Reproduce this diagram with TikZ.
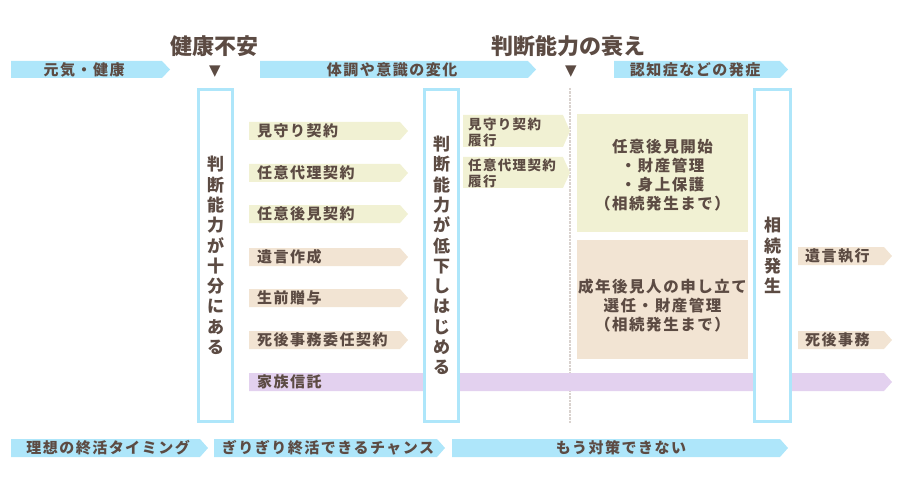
\documentclass[tikz,border=0pt]{standalone}
\usepackage{fontspec}
\newfontfamily\jp[LetterSpace=10]{Noto Sans CJK JP}
\newfontfamily\jph{Noto Sans CJK JP}
\newfontfamily\sym{DejaVu Sans}
\definecolor{txt}{HTML}{5C4B43}
\definecolor{sky}{HTML}{AEE6FA}
\definecolor{lemon}{HTML}{F1F1D3}
\definecolor{sand}{HTML}{F2E4D3}
\definecolor{lav}{HTML}{E3D1EF}
\definecolor{dashc}{HTML}{D9D2CE}
\newcommand\band[6][8]{\fill[#2] (#3,#5-#6/2) -- (#4-#1,#5-#6/2) -- (#4,#5) -- (#4-#1,#5+#6/2) -- (#3,#5+#6/2) -- cycle;}
\begin{document}
\begin{tikzpicture}[x=1pt,y=-1pt,
  lbl/.style={text=txt,font=\jp\bfseries\fontsize{15}{19}\selectfont,inner sep=0pt},
  sml/.style={text=txt,font=\jp\bfseries\fontsize{13.5}{16}\selectfont,inner sep=0pt,align=left,anchor=west},
  head/.style={text=txt,font=\jph\bfseries\fontsize{22}{24}\selectfont,inner sep=0pt},
  tri/.style={text=txt,font=\sym\fontsize{15}{15}\selectfont,inner sep=0pt},
  vbox/.style={draw=sky,line width=3pt,fill=white,inner sep=0pt,minimum height=332pt,
    text=txt,font=\jph\bfseries\fontsize{17}{20.3}\selectfont,align=center},
  pbox/.style={inner sep=0pt,text=txt,font=\jp\bfseries\fontsize{15.5}{19}\selectfont,align=center}]
\useasboundingbox (0,0) rectangle (900,500);
% headings
\node[head] (h1) at (214,46) {健康不安};
\node[head] (h2) at (568,46) {判断能力の衰え};
\node[tri] (t1) at (215,72) {▼};
\node[tri] (t2) at (571,72) {▼};
% top bands
\band{sky}{11}{170}{69.5}{17}
\band{sky}{260}{536}{69.5}{17}
\band{sky}{614}{788}{69.5}{17}
\node[lbl] (b1) at (84,69.5) {元気・健康};
\node[lbl] (b2) at (392,69.5) {体調や意識の変化};
\node[lbl] (b3) at (695,69.5) {認知症などの発症};
% dashed divider
\draw[dashc,line width=1.5pt,dash pattern=on 2.5pt off 1pt] (570,88) -- (570,423);
% left arrows
\band{lemon}{249}{408}{131}{18}
\band{lemon}{249}{408}{173}{18}
\band{lemon}{249}{408}{214}{18}
\band{sand}{249}{408}{257}{18}
\band{sand}{249}{408}{298}{18}
\band{sand}{249}{408}{340}{18}
\band{lav}{249}{892}{382}{18}
\node[lbl,anchor=west] (l1) at (257,131) {見守り契約};
\node[lbl,anchor=west] (l2) at (257,173) {任意代理契約};
\node[lbl,anchor=west] (l3) at (257,214) {任意後見契約};
\node[lbl,anchor=west] (l4) at (257,257) {遺言作成};
\node[lbl,anchor=west] (l5) at (257,298) {生前贈与};
\node[lbl,anchor=west] (l6) at (257,340) {死後事務委任契約};
\node[lbl,anchor=west] (l7) at (257,382) {家族信託};
% middle arrows
\band[7]{lemon}{463}{570}{131}{32}
\band[7]{lemon}{463}{570}{172.5}{31}
\node[sml] (m1) at (468,132) {見守り契約\\履行};
\node[sml] (m2) at (468,173) {任意代理契約\\履行};
% right boxes
\fill[lemon] (577,114) rectangle (748,232);
\fill[sand] (577,240) rectangle (748,359);
\node[pbox] (p1) at (662.5,175) {任意後見開始\\・財産管理\\・身上保護\\（相続発生まで）};
\node[pbox] (p2) at (662.5,306) {成年後見人の申し立て\\選任・財産管理\\（相続発生まで）};
% right arrows
\band{sand}{798}{892}{256}{18}
\band{sand}{798}{892}{340}{18}
\node[lbl,anchor=west] (r1) at (805,256) {遺言執行};
\node[lbl,anchor=west] (r2) at (805,340) {死後事務};
% vertical boxes
\node[vbox,minimum width=34pt] (v1) at (215.5,255.5) {判\\断\\能\\力\\が\\十\\分\\に\\あ\\る};
\node[vbox,minimum width=34pt] (v2) at (441.5,255.5) {判\\断\\能\\力\\が\\低\\下\\し\\は\\じ\\め\\る};
\node[vbox,minimum width=36pt] (v3) at (772.5,255.5) {相\\続\\発\\生};
% bottom bands
\band{sky}{11}{208}{448}{18}
\band{sky}{214}{445}{448}{18}
\band{sky}{452}{788}{448}{18}
\node[lbl] (f1) at (108,448) {理想の終活タイミング};
\node[lbl] (f2) at (328,448) {ぎりぎり終活できるチャンス};
\node[lbl] (f3) at (621,448) {もう対策できない};
\end{tikzpicture}
\end{document}
